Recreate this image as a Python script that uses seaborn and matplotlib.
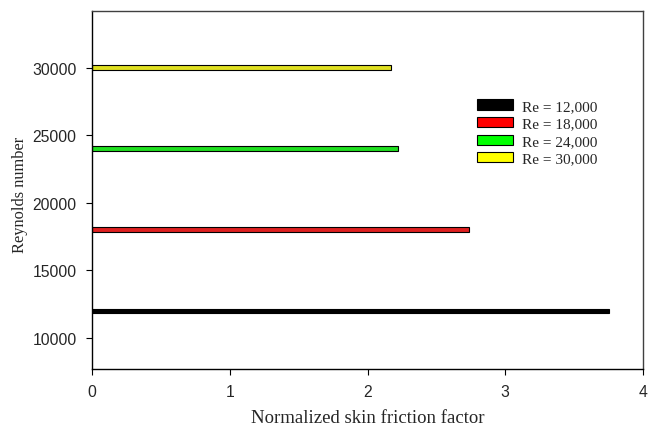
import matplotlib
matplotlib.use("Agg")
import matplotlib.pyplot as plt
import seaborn as sns
import pandas as pd
from matplotlib.patches import Patch

# Reynolds numbers and their normalized skin friction factors
reynolds = [12000, 18000, 24000, 30000]
friction = [3.75, 2.74, 2.22, 2.17]
labels = ["Re = 12,000", "Re = 18,000", "Re = 24,000", "Re = 30,000"]
colors = ["#000000", "#ff0000", "#00ff00", "#ffff00"]

x_ticks = [0, 1, 2, 3, 4]
y_ticks = [10000, 15000, 20000, 25000, 30000]

df = pd.DataFrame({"Re": reynolds, "f": friction, "label": labels})

sns.set_style("white")
fig = plt.figure(figsize=(6.54, 4.27), dpi=100)
ax = fig.add_axes([0.1407, 0.1335, 0.8425, 0.8385])

sns.barplot(data=df, x="f", y="Re", hue="label", palette=colors,
            orient="h", native_scale=True, dodge=False, width=0.058,
            edgecolor="black", linewidth=0.8, legend=False, ax=ax)

ax.set_xlim(0, 4)
ax.set_ylim(7700, 34200)
ax.set_xticks(x_ticks)
ax.set_xticklabels([str(t) for t in x_ticks])
ax.set_yticks(y_ticks)
ax.set_yticklabels([str(t) for t in y_ticks])

for lab in ax.get_xticklabels() + ax.get_yticklabels():
    lab.set_fontfamily("Liberation Sans")
    lab.set_fontsize(11.3)

ax.tick_params(axis="both", which="both", direction="out", length=4,
               width=0.8, color="black", left=True, bottom=True,
               top=False, right=False, pad=7)

for side in ["left", "bottom"]:
    ax.spines[side].set_color("black")
    ax.spines[side].set_linewidth(1.0)
for side in ["top", "right"]:
    ax.spines[side].set_color("#404040")
    ax.spines[side].set_linewidth(1.0)

ax.set_xlabel("Normalized skin friction factor", family="Liberation Serif",
              fontsize=13.5)
ax.xaxis.set_label_coords(0.5, -0.112)
ax.set_ylabel("Reynolds number", family="Liberation Serif", fontsize=11.8)
ax.yaxis.set_label_coords(-0.116, 0.49)

handles = [Patch(facecolor=c, edgecolor="black", linewidth=0.8, label=l)
           for c, l in zip(colors, labels)]
ax.legend(handles=handles, loc="upper left", bbox_to_anchor=(0.699, 0.753),
          frameon=False, prop={"family": "Liberation Serif", "size": 11},
          handlelength=2.35, handleheight=0.65, labelspacing=0.27,
          handletextpad=0.6, borderpad=0, borderaxespad=0)

fig.savefig("out.png", dpi=100)
